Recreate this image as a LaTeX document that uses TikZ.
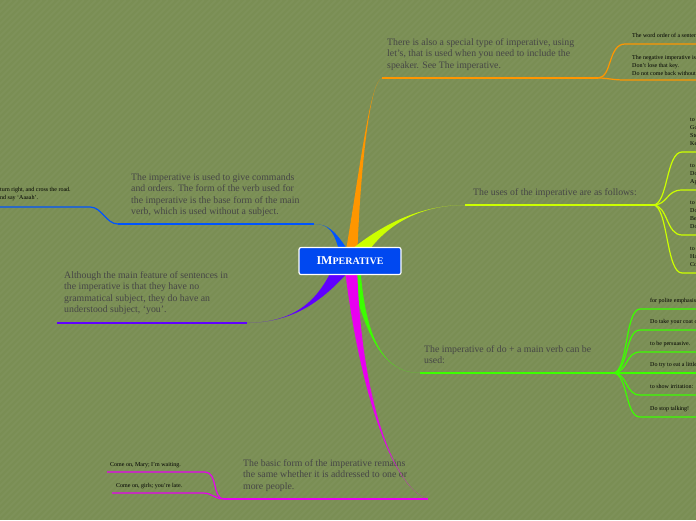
\documentclass[tikz,border=0pt]{standalone}
\usepackage{fontspec}
\setmainfont{Liberation Serif}
\usetikzlibrary{positioning}
\definecolor{bg}{RGB}{122,142,84}
\definecolor{txt}{RGB}{70,70,70}
\definecolor{hubblue}{RGB}{0,72,240}
\definecolor{orangeb}{RGB}{255,150,0}
\definecolor{limeb}{RGB}{204,255,0}
\definecolor{greenb}{RGB}{60,255,0}
\definecolor{magb}{RGB}{232,0,240}
\definecolor{violb}{RGB}{96,0,255}
\definecolor{blueb}{RGB}{0,84,255}
% tapered main branch: colour, start a, start b, control 1, control 2, tip
\newcommand{\limb}[6]{\fill[#1] (#2) .. controls (#4) and (#5) .. (#6) .. controls (#5) and (#4) .. (#3) -- cycle;}

\begin{document}
\begin{tikzpicture}[x=1pt,y=-1pt,
  topic/.style={anchor=north west,inner sep=0pt,align=left,text=txt,font=\fontsize{9.8}{11.6}\selectfont},
  leaf/.style={anchor=north west,inner sep=0pt,align=left,text=black,font=\fontsize{6}{8}\selectfont},
  twig/.style={line width=1.2pt}]
\fill[bg] (0,0) rectangle (696,520);
\clip (0,0) rectangle (696,520);
\foreach \i in {-520,-514,...,696}{\draw[white,opacity=0.035,line width=1.5pt] (\i,520) -- (\i+520,0);}

\coordinate (ctr) at (350,261);
\coordinate (oE) at (382,78);  \coordinate (oR) at (598,78);
\coordinate (lE) at (465,205); \coordinate (lR) at (653,205);
\coordinate (gE) at (420,373); \coordinate (gR) at (613,373);
\coordinate (mE) at (428,499); \coordinate (mL) at (224,499);
\coordinate (vE) at (247,323); \coordinate (vL) at (57,323);
\coordinate (bE) at (314,224); \coordinate (bL) at (118,224);

% topics
\node[topic] (tLets) at (387,38) {There is also a special type of imperative, using\\let’s, that is used when you need to include the\\speaker. See The imperative.};
\node[topic] (tUses) at (473,188) {The uses of the imperative are as follows:};
\node[topic] (tDo) at (424,345) {The imperative of do + a main verb can be\\used:};
\node[topic] (tBasic) at (243,459) {The basic form of the imperative remains\\the same whether it is addressed to one or\\more people.};
\node[topic] (tSubject) at (64,271) {Although the main feature of sentences in\\the imperative is that they have no\\grammatical subject, they do have an\\understood subject, ‘you’.};
\node[topic] (tOrders) at (131,173) {The imperative is used to give commands\\and orders. The form of the verb used for\\the imperative is the base form of the main\\verb, which is used without a subject.};

% orange
\node[leaf] (o1) at (632,33) {The word order of a sentence with an imperative.};
\node[leaf] (o2) at (632,55) {The negative imperative is formed with do not.\\Don’t lose that key.\\Do not come back without it!};
\draw[orangeb,twig] (oE) -- (oR);
\draw[orangeb,twig] (oR) .. controls (612,78) and (608,44) .. (625,44) -- (700,44);
\draw[orangeb,twig] (oR) .. controls (608,78) and (612,80) .. (625,80) -- (700,80);

% lime
\node[leaf] (l1) at (690,117) {to give orders:\\Go away.\\Stop that.\\Keep quiet.};
\node[leaf] (l2) at (690,163) {to give instructions:\\Don’t forget your keys.\\Apply the glue thinly.};
\node[leaf] (l3) at (690,200) {to give advice:\\Don’t be silly.\\Be careful.\\Don’t worry.};
\node[leaf] (l4) at (690,246) {to make an invitation:\\Have a biscuit.\\Come to dinner.};
\draw[limeb,twig] (lE) -- (lR);
\foreach \y in {152,190,235,273}{
  \draw[limeb,twig] (lR) .. controls (668,205) and (666,\y) .. (682,\y) -- (700,\y);}

% green
\foreach \y/\t [count=\i] in {309/{for polite emphasis:},330/{Do take your coat off.},352/{to be persuasive.},373/{Do try to eat a little.},395/{to show irritation:},417/{Do stop talking!}}{
  \node[leaf] (g\i) at (650,\y-11) {\t};
  \draw[greenb,twig] (gR) .. controls (628,373) and (625,\y) .. (640,\y) -- (700,\y);}
\draw[greenb,twig] (gE) -- (gR);

% magenta
\node[leaf] (m1) at (110,462) {Come on, Mary; I’m waiting.};
\node[leaf] (m2) at (116,483) {Come on, girls; you’re late.};
\draw[magb,twig] (mE) -- (mL);
\draw[magb,twig] (mL) .. controls (212,499) and (218,472) .. (205,472) -- (107,472);
\draw[magb,twig] (mL) .. controls (215,499) and (212,493) .. (203,493) -- (112,493);

% violet
\draw[violb,twig] (vE) -- (vL);

% blue
\node[leaf] (b1) at (0,187) {\llap{Go to the lights, }turn right, and cross the road.\\\llap{Open your mouth a}nd say ‘Aaaah’.};
\draw[blueb,twig] (bE) -- (bL);
\draw[blueb,twig] (bL) .. controls (106,224) and (102,207) .. (90,207) -- (-5,207);

% main branches
\limb{blueb}{341,259}{351,255}{335,230}{328,224}{bE}
\limb{violb}{336,260}{350,270}{318,306}{290,322}{vE}
\limb{orangeb}{344,262}{357,262}{360,170}{370,80}{oE}
\limb{limeb}{346,254}{358,268}{380,225}{420,205}{lE}
\limb{greenb}{347,262}{360,262}{364,330}{380,373}{gE}
\limb{magb}{344,262}{357,262}{360,400}{395,490}{mE}

\node[fill=hubblue,draw=white,line width=1.2pt,rounded corners=2pt,minimum width=102pt,minimum height=27pt,text=white,font=\bfseries] (hub) at (ctr) {{\fontsize{12}{12}\selectfont IM}{\fontsize{10}{10}\selectfont PERATIVE}};
\end{tikzpicture}
\end{document}
